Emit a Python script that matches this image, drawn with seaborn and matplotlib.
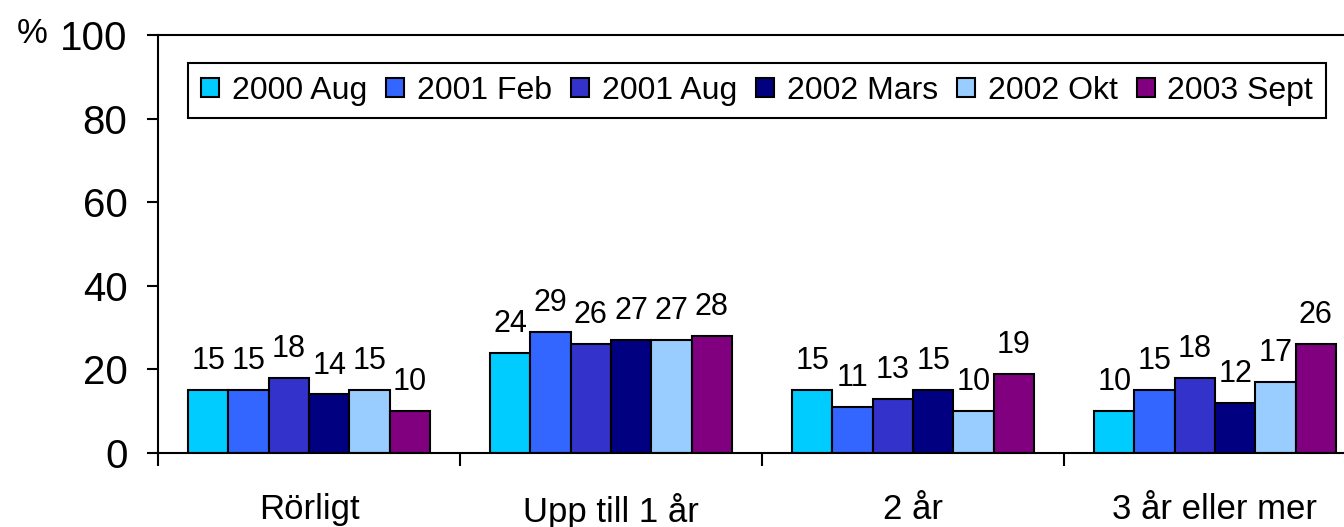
import pandas as pd
import seaborn as sns
import matplotlib.pyplot as plt

# data
categories = ["Rörligt", "Upp till 1 år", "2 år", "3 år eller mer"]
surveys = ["2000 Aug", "2001 Feb", "2001 Aug", "2002 Mars", "2002 Okt", "2003 Sept"]
v_2000_aug = [15, 24, 15, 10]
v_2001_feb = [15, 29, 11, 15]
v_2001_aug = [18, 26, 13, 18]
v_2002_mars = [14, 27, 15, 12]
v_2002_okt = [15, 27, 10, 17]
v_2003_sept = [10, 28, 19, 26]
colors = ["#00CCFF", "#3366FF", "#3333CC", "#000080", "#99CCFF", "#800080"]

series = [v_2000_aug, v_2001_feb, v_2001_aug, v_2002_mars, v_2002_okt, v_2003_sept]
rows = []
for s, vals in zip(surveys, series):
    for c, v in zip(categories, vals):
        rows.append({"kategori": c, "period": s, "andel": v})
df = pd.DataFrame(rows)

sns.set_style("white")
plt.rcParams["font.family"] = ["Liberation Sans", "DejaVu Sans"]
plt.rcParams["text.color"] = "black"
plt.rcParams["xtick.color"] = "black"
plt.rcParams["ytick.color"] = "black"

fig = plt.figure(figsize=(13.44, 5.27), dpi=100)
ax = fig.add_axes([158 / 1344, 1 - 453 / 527, 1208 / 1344, 418 / 527])

sns.barplot(data=df, x="kategori", y="andel", hue="period", order=categories,
            hue_order=surveys, palette=colors, saturation=1, width=0.8,
            edgecolor="black", linewidth=1.5, ax=ax)

for cont in ax.containers:
    ax.bar_label(cont, fmt="{:.0f}", padding=10, fontsize=22)

ax.set_ylim(0, 100)
ax.set_xlim(-0.5, 3.5)
ax.set_yticks(range(0, 101, 20))
ax.tick_params(axis="y", labelsize=29, length=8, width=1.5, pad=14, left=True, direction="out")

# ticks on the category borders, labels in between
ax.set_xticks([-0.5, 0.5, 1.5, 2.5, 3.5])
ax.set_xticklabels([])
ax.set_xticks(range(len(categories)), minor=True)
ax.set_xticklabels(categories, minor=True, fontsize=25)
ax.tick_params(axis="x", which="major", length=9, width=1.5, bottom=True, direction="out")
ax.tick_params(axis="x", which="minor", length=0, pad=29)
ax.set_xlabel("")
ax.set_ylabel("")

for side in ["left", "bottom", "top", "right"]:
    ax.spines[side].set_linewidth(1.5)
    ax.spines[side].set_color("black")

fig.text(32 / 1344, 1 - 34 / 527, "%", fontsize=25, ha="center", va="center")

handles, labels = ax.get_legend_handles_labels()
leg = ax.legend(handles, labels, loc="center", bbox_to_anchor=(0.496, 0.867), ncol=6,
                frameon=True, fancybox=False, edgecolor="black", framealpha=1,
                fontsize=23, handlelength=0.56, handleheight=0.56, handletextpad=0.4,
                columnspacing=0.6, borderpad=0.4, borderaxespad=0)
leg.get_frame().set_linewidth(1.5)

plt.savefig("out.png", dpi=100)
